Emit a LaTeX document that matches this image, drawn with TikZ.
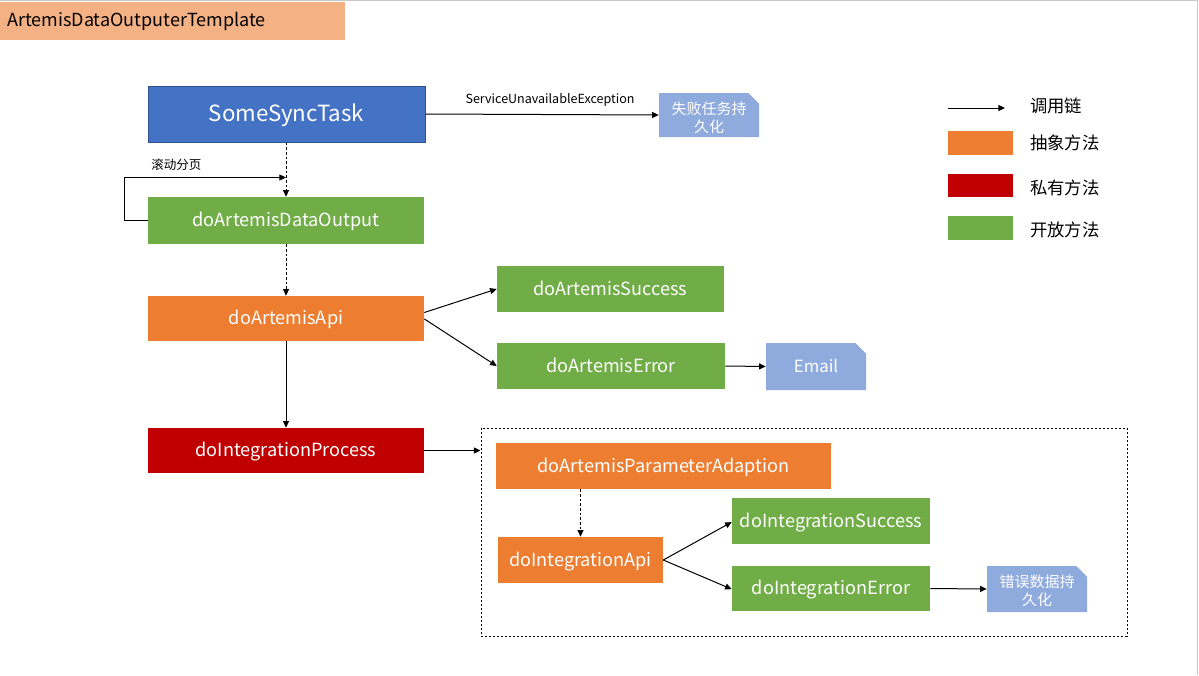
\documentclass[tikz,border=0pt]{standalone}
\usepackage{fontspec}
\setmainfont{Noto Sans CJK SC}
\usetikzlibrary{arrows.meta,shapes.misc}
\definecolor{cblue}{HTML}{4472C4}
\definecolor{cblueline}{HTML}{2F528F}
\definecolor{cgreen}{HTML}{70AD47}
\definecolor{corange}{HTML}{ED7D31}
\definecolor{cred}{HTML}{C00000}
\definecolor{cnote}{HTML}{8FAADC}
\definecolor{ctitle}{HTML}{F4B183}
\definecolor{cframe}{HTML}{C8C8C8}
\newcommand\pbox[7]{\node[#6, minimum width={(#3-#1)*0.75pt}, minimum height={(#4-#2)*0.75pt}] (#5) at ({(#1+#3)/2},{(#2+#4)/2}) {#7};}
\newcommand\notefill{\phantom{失败任务持}\rule{0pt}{24pt}}
\begin{document}
\begin{tikzpicture}[x=0.75pt,y=-0.75pt,
  arr/.style={-{Triangle[length=5pt,width=4.5pt]}, line width=0.75pt},
  dsh/.style={arr, dash pattern=on 2pt off 1.5pt},
  box/.style={inner sep=0pt, text=white, text height=10.6pt, text depth=1pt, font=\fontsize{13.6pt}{16pt}\selectfont},
  gbox/.style={box, fill=cgreen},
  obox/.style={box, fill=corange},
  rbox/.style={box, fill=cred},
  note/.style={inner sep=0pt, text=white, fill=cnote, chamfered rectangle, chamfered rectangle corners=north east, chamfered rectangle xsep=4pt, chamfered rectangle ysep=4pt, font=\fontsize{11.25pt}{13pt}\selectfont},
  notetxt/.style={inner sep=0pt, text=white, align=center, font=\fontsize{11.25pt}{13pt}\selectfont},
  legtxt/.style={anchor=west, inner sep=0pt, font=\fontsize{13pt}{15pt}\selectfont},
  lbl/.style={inner sep=0pt}
]
\useasboundingbox (0,0) rectangle (1199,675);
\draw[cframe, line width=1pt] (0,0.5) -- (1197.5,0.5) -- (1197.5,675);
% title
\pbox{0}{2}{345}{40}{title}{inner sep=0pt, fill=ctitle}{}
\node[anchor=west, inner sep=0pt, font=\fontsize{13.5pt}{16pt}\selectfont] (titletxt) at (7,21.5) {ArtemisDataOutputerTemplate};
% boxes
\pbox{148}{86}{425}{142}{sync}{box, fill=cblue, draw=cblueline, line width=0.75pt, text height=12.5pt, text depth=1pt, font=\fontsize{16.7pt}{20pt}\selectfont}{SomeSyncTask}
\pbox{659}{93}{759}{137}{fail}{note}{\notefill}
\node[notetxt] (failt) at ([yshift=-2.2pt]fail.center) {失败任务持\\久化};
\pbox{148}{197}{424}{244}{output}{gbox}{doArtemisDataOutput}
\pbox{148}{296}{424}{341}{api}{obox}{doArtemisApi}
\pbox{497}{266}{724}{312}{asucc}{gbox}{doArtemisSuccess}
\pbox{497}{343}{725}{389}{aerr}{gbox}{doArtemisError}
\pbox{766}{343}{866}{390}{email}{note, text height=10pt, text depth=1pt, font=\fontsize{12.6pt}{15pt}\selectfont}{Email}
\pbox{148}{428}{424}{473}{proc}{rbox}{doIntegrationProcess}
\pbox{481}{428}{1127}{636}{frame}{draw, dash pattern=on 1.5pt off 1.5pt, line width=0.75pt, inner sep=0pt}{}
\pbox{496}{443}{831}{489}{param}{obox}{doArtemisParameterAdaption}
\pbox{498}{537}{663}{583}{iapi}{obox}{doIntegrationApi}
\pbox{732}{498}{930}{544}{isucc}{gbox}{doIntegrationSuccess}
\pbox{732}{566}{930}{611}{ierr}{gbox}{doIntegrationError}
\pbox{987}{566}{1087}{612}{errp}{note}{\notefill}
\node[notetxt, font=\fontsize{11.25pt}{13.8pt}\selectfont] (errpt) at ([yshift=-1.5pt]errp.center) {错误数据持\\久化};
% connectors
\draw[arr] (sync.east) -- (fail.west);
\node[lbl, font=\fontsize{9.4pt}{11pt}\selectfont] (exc) at (550,100) {ServiceUnavailableException};
\draw[dsh] (sync.south -| output.north) -- (output.north);
\coordinate (loopa) at (124.5,220.5);
\coordinate (loopb) at (124.5,177.5);
\draw[arr] (output.west) -- (loopa) -- (loopb) -- (loopb -| output.north);
\node[lbl, anchor=west, font=\fontsize{9.4pt}{11pt}\selectfont] (page) at (151,165) {滚动分页};
\draw[dsh] (output.south) -- (api.north);
\draw[arr] ([yshift=4.5pt]api.east) -- (asucc.west);
\draw[arr] ([yshift=-0.3pt]api.east) -- (aerr.west);
\draw[arr] (aerr.east) -- (email.west);
\draw[arr] (api.south) -- (proc.north);
\draw[arr] (proc.east) -- (proc.east -| frame.west);
\draw[dsh] (param.south -| iapi.north) -- (iapi.north);
\draw[arr] (iapi.east) -- ([yshift=-0.8pt]isucc.west);
\draw[arr] (iapi.east) -- ([yshift=-0.5pt]ierr.west);
\draw[arr] (ierr.east) -- (errp.west);
% legend
\coordinate (la) at (948,108);
\coordinate (lb) at (1005,108);
\draw[arr] (la) -- (lb);
\node[legtxt] (l1) at (1030,106) {调用链};
\pbox{948}{131}{1013}{155}{lo}{inner sep=0pt, fill=corange}{}
\node[legtxt] (l2) at (1030,143) {抽象方法};
\pbox{948}{174}{1013}{197}{lr}{inner sep=0pt, fill=cred}{}
\node[legtxt] (l3) at (1030,188) {私有方法};
\pbox{948}{216}{1013}{240}{lg}{inner sep=0pt, fill=cgreen}{}
\node[legtxt] (l4) at (1030,230) {开放方法};
\end{tikzpicture}
\end{document}
